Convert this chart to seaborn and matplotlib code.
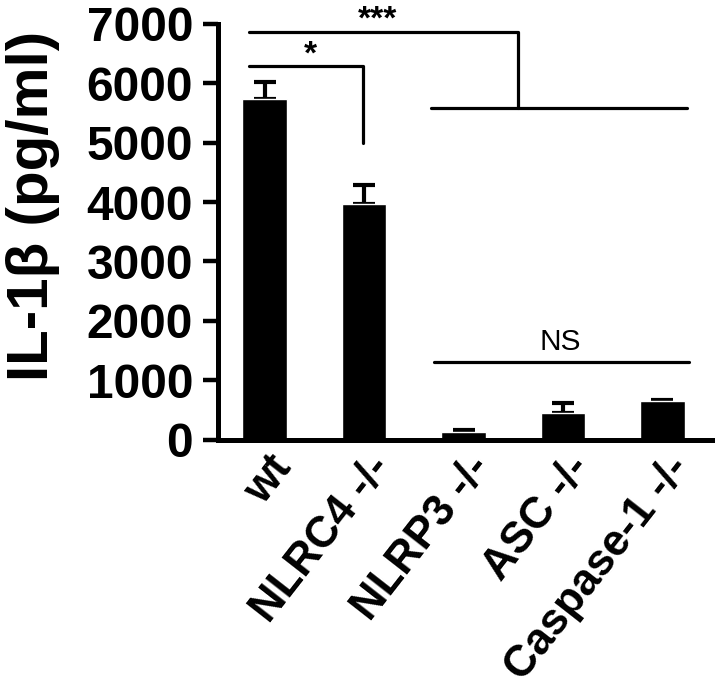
import matplotlib
matplotlib.use('Agg')
import matplotlib.pyplot as plt
import matplotlib.transforms as mtransforms
import seaborn as sns
import pandas as pd
import numpy as np

# ---- data ----
groups = ['wt', 'NLRC4 -/-', 'NLRP3 -/-', 'ASC -/-', 'Caspase-1 -/-']
means = [5740, 3970, 130, 450, 650]
sems = [280, 320, 25, 170, 15]
yticks = [0, 1000, 2000, 3000, 4000, 5000, 6000, 7000]
ylabel = 'IL-1β (pg/ml)'

# significance annotations: (x_start, x_end, y_level, y_drop_at_end, label, label_x, label_y)
sig_star = (-0.156, 0.99, 6300, 5000, '*', 0.46, 6480)
sig_triple = (-0.156, 2.55, 6870, 5590, '***', 1.14, 7060)
sig_lower = (1.67, 4.25, 5590)
sig_ns = (1.70, 4.27, 1310, 'NS', 2.97, 1640)

sns.set_theme(style='ticks')
plt.rcParams['font.family'] = ['Liberation Sans', 'DejaVu Sans']
plt.rcParams['text.color'] = 'black'
plt.rcParams['axes.labelcolor'] = 'black'
plt.rcParams['xtick.color'] = 'black'
plt.rcParams['ytick.color'] = 'black'

fig = plt.figure(figsize=(7.21, 6.89), dpi=100)
ax = fig.add_axes([0.3024, 0.3621, 0.6851, 0.6031])

df = pd.DataFrame({'group': groups, 'value': means})
ax.errorbar(np.arange(len(groups)), means,
            yerr=[np.zeros(len(sems)), sems], fmt='none', ecolor='black',
            elinewidth=3, capsize=8, capthick=3, zorder=1)
sns.barplot(data=df, x='group', y='value', color='black', width=0.45,
            ax=ax, errorbar=None, saturation=1, zorder=2)

ax.set_ylim(0, 7000)
ax.set_xlim(-0.47, 4.5)
ax.set_yticks(yticks)
ax.set_yticklabels([str(v) for v in yticks], fontsize=34.5, fontweight='bold')
ax.set_xticks(range(len(groups)))
ax.set_xticklabels([])
ax.tick_params(axis='x', length=0)
ax.tick_params(axis='y', length=11, width=3.2, pad=7, color='black')

offset = mtransforms.ScaledTranslation(19 / 100, -21 / 100, fig.dpi_scale_trans)
trans = ax.get_xaxis_transform() + offset
for i, lab in enumerate(groups):
    ax.text(i, 0, lab, transform=trans, fontsize=31.5, fontweight='bold',
            rotation=52, ha='right', va='center', rotation_mode='anchor')

ax.set_xlabel('')
ax.set_ylabel(ylabel, fontsize=42, fontweight='bold')
ax.yaxis.set_label_coords(-0.375, 0.562)
ax.yaxis.label.set_va('center')

sns.despine(ax=ax)
for s in ['left', 'bottom']:
    ax.spines[s].set_linewidth(3.6)
    ax.spines[s].set_color('black')

lw = 2.3
x0, x1, y, yd, lab, lx, ly = sig_star
ax.plot([x0, x1, x1], [y, y, yd], color='black', lw=lw, clip_on=False)
ax.text(lx, ly, lab, ha='center', va='center', fontsize=24, fontweight='bold')

x0, x1, y, yd, lab, lx, ly = sig_triple
ax.plot([x0, x1, x1], [y, y, yd], color='black', lw=lw, clip_on=False)
ax.text(lx, ly, lab, ha='center', va='center', fontsize=24, fontweight='bold',
        clip_on=False)

x0, x1, y = sig_lower
ax.plot([x0, x1], [y, y], color='black', lw=lw, clip_on=False)

x0, x1, y, lab, lx, ly = sig_ns
ax.plot([x0, x1], [y, y], color='black', lw=lw, clip_on=False)
ax.text(lx, ly, lab, ha='center', va='center', fontsize=21.5)

fig.savefig('out.png', dpi=100)
